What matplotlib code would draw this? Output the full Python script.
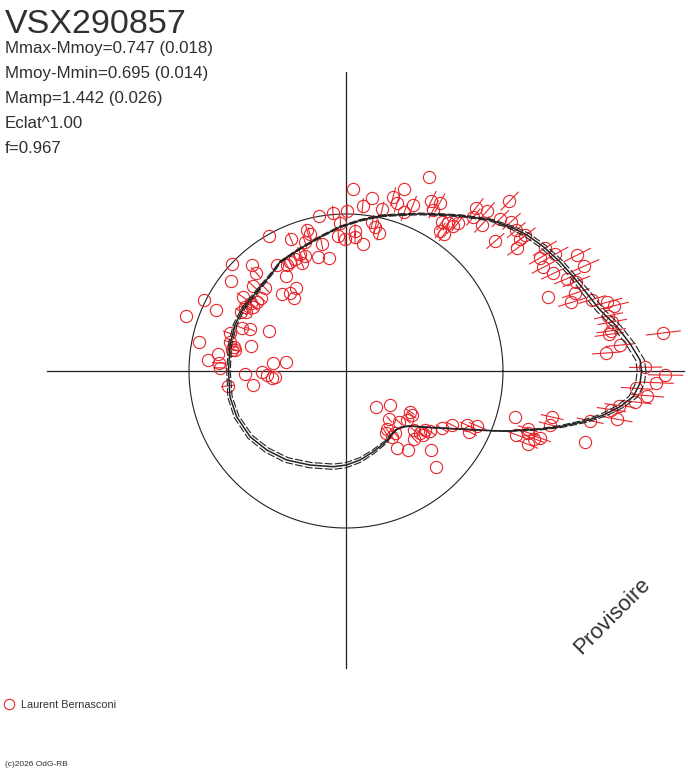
import numpy as np
import matplotlib
matplotlib.use("Agg")
import matplotlib.pyplot as plt
from matplotlib.collections import LineCollection

plt.rcParams['font.family'] = ['Liberation Sans', 'DejaVu Sans']

# star and fit results
star = "VSX290857"
stats = ["Mmax-Mmoy=0.747 (0.018)",
         "Mmoy-Mmin=0.695 (0.014)",
         "Mamp=1.442 (0.026)",
         "Eclat^1.00",
         "f=0.967"]
observer = "Laurent Bernasconi"

# observations: phase, magnitude relative to mean (mag), error (mag)
pt_phase = [0.186, 0.244, 0.201, 0.226, 0.208, 0.203, 0.234, 0.189, 0.194, 0.215,
            0.176, 0.169, 0.171, 0.277, 0.263, 0.249, 0.256, 0.222, 0.218, 0.213,
            0.240, 0.239, 0.251, 0.259, 0.229, 0.280, 0.293, 0.291, 0.313, 0.288,
            0.274, 0.159, 0.154, 0.151, 0.156, 0.149, 0.309, 0.318, 0.326, 0.331,
            0.128, 0.143, 0.135, 0.140, 0.147, 0.131, 0.124, 0.117, 0.110, 0.103,
            0.103, 0.114, 0.099, 0.088, 0.081, 0.084, 0.074, 0.066, 0.077, 0.070,
            0.063, 0.059, 0.052, 0.056, 0.047, 0.045, 0.041, 0.038, 0.033, 0.029,
            0.024, 0.022, 0.019, 0.015, 0.011, 0.002, 0.998, 0.994, 0.9905, 0.987,
            0.983, 0.980, 0.977, 0.972, 0.968, 0.965, 0.959, 0.954,
            0.861, 0.895, 0.910, 0.906, 0.866, 0.878, 0.892, 0.847, 0.841, 0.847,
            0.856, 0.886, 0.875, 0.898, 0.901, 0.889, 0.890, 0.843, 0.856, 0.881,
            0.870, 0.914, 0.925, 0.933, 0.937, 0.927, 0.958, 0.951, 0.948, 0.943,
            0.945, 0.939, 0.947,
            0.333, 0.299, 0.380, 0.365, 0.368, 0.342, 0.340, 0.312, 0.304, 0.394,
            0.382, 0.373, 0.336, 0.361, 0.349, 0.348, 0.387, 0.401, 0.426, 0.430,
            0.447, 0.402, 0.404, 0.410, 0.418, 0.415, 0.395, 0.4375, 0.4345, 0.424,
            0.450, 0.469, 0.461, 0.466, 0.470, 0.471, 0.459, 0.479, 0.487, 0.490,
            0.496, 0.482, 0.476, 0.505, 0.501, 0.508, 0.514, 0.513, 0.524, 0.520]
pt_dmag = [-0.32, -0.16, -0.21, -0.12, -0.15, -0.12, -0.06, -0.14, -0.08, -0.06,
           -0.21, -0.22, -0.17, 0.00, -0.01, -0.02, 0.06, 0.04, 0.07, 0.11,
           0.12, 0.17, 0.19, 0.16, 0.22, 0.21, 0.08, 0.11, 0.10, 0.32,
           0.34, -0.13, -0.15, -0.08, -0.08, -0.15, 0.24, 0.26, 0.27, 0.28,
           -0.44, -0.31, -0.33, -0.26, -0.18, -0.26, -0.35, -0.38, -0.37, -0.39,
           -0.36, -0.25, -0.32, -0.43, -0.46, -0.39, -0.54, -0.55, -0.38, -0.41,
           -0.46, -0.49, -0.47, -0.34, -0.44, -0.53, -0.59, -0.61, -0.58, -0.59,
           -0.58, -0.57, -0.77, -0.61, -0.55, -0.70, -0.77, -0.74, -0.67, -0.71,
           -0.67, -0.61, -0.58, -0.61, -0.50, -0.32, -0.32, -0.50,
           1.32, 1.13, 0.79, 0.74, 0.96, 0.83, 0.76, 0.86, 0.82, 0.73,
           0.74, 0.61, 0.54, 0.51, 0.45, 0.53, 0.49, 0.57, 0.49, 0.33,
           0.19, 0.37, 0.30, 0.18, 0.11, 0.15, -0.12, -0.21, -0.22, -0.16,
           -0.26, -0.24, -0.29,
           0.01, 0.16, 0.00, 0.11, 0.18, 0.23, 0.36, 0.32, 0.27, 0.08,
           0.24, 0.33, 0.52, 0.49, 0.54, 0.61, 0.37, 0.23, -0.01, 0.10,
           -0.08, 0.32, 0.36, 0.30, 0.29, 0.33, 0.36, 0.36, 0.44, 0.64,
           0.27, 0.05, 0.30, 0.34, 0.36, 0.33, 0.51, 0.21, 0.14, 0.23,
           0.24, 0.82, 1.03, 0.48, 0.68, 0.75, 0.81, 0.86, 0.56, 0.30]
pt_err = [0, 0, 0, 0, 0.06, 0.06, 0.05, 0.06, 0.06, 0.05,
          0.06, 0.06, 0.06, 0, 0.05, 0.05, 0.05, 0.05, 0.05, 0.06,
          0.05, 0.05, 0.05, 0.05, 0, 0.05, 0.05, 0.05, 0.05, 0,
          0, 0.06, 0.06, 0.06, 0.06, 0.06, 0.06, 0.06, 0.06, 0.06,
          0.06, 0.06, 0.06, 0.06, 0.06, 0.06, 0.06, 0.06, 0.06, 0.06,
          0.06, 0.065, 0.065, 0.065, 0.065, 0.065, 0.065, 0.065, 0.065, 0.065,
          0.065, 0.065, 0.065, 0, 0.065, 0.06, 0.06, 0.06, 0.06, 0.06,
          0.06, 0.06, 0.06, 0.06, 0.06, 0.06, 0.06, 0.06, 0.06, 0.06,
          0.06, 0.06, 0.06, 0.06, 0.06, 0.06, 0.06, 0,
          0, 0, 0.07, 0.07, 0.07, 0.07, 0.07, 0.07, 0.07, 0.07,
          0.07, 0.07, 0.07, 0.07, 0.07, 0.07, 0.07, 0, 0, 0,
          0, 0.07, 0.07, 0.07, 0.07, 0.07, 0, 0.06, 0.06, 0.06,
          0.06, 0.06, 0.06,
          0, 0.05, 0, 0, 0.06, 0, 0, 0.06, 0.06, 0,
          0.06, 0.06, 0, 0, 0, 0, 0.06, 0.06, 0, 0,
          0, 0.06, 0.06, 0.06, 0.06, 0.06, 0.06, 0.06, 0.06, 0,
          0.06, 0, 0.06, 0.06, 0.06, 0.06, 0, 0, 0, 0.06,
          0.06, 0, 0, 0, 0, 0, 0, 0, 0, 0.06]

# fitted light curve and its uncertainty
fit_phase = [0.0, 0.006, 0.0155, 0.026, 0.0375, 0.0497, 0.0625, 0.075, 0.0894, 0.1027,
             0.1125, 0.129, 0.149, 0.164, 0.180, 0.197, 0.2155, 0.235, 0.257, 0.2805,
             0.307, 0.3367, 0.3506, 0.3845, 0.413, 0.4375, 0.465, 0.5, 0.535, 0.563,
             0.5956, 0.625, 0.6565, 0.6917, 0.729, 0.751, 0.775, 0.802, 0.833, 0.848,
             0.862, 0.875, 0.887, 0.903, 0.925, 0.9375, 0.943, 0.9536, 0.9595, 0.9665,
             0.973, 0.9794, 0.9858, 0.9933]
fit_dmag = [-0.687, -0.682, -0.648, -0.606, -0.553, -0.518, -0.488, -0.462, -0.430, -0.397,
            -0.366, -0.309, -0.223, -0.163, -0.109, -0.057, -0.012, 0.040, 0.093, 0.152,
            0.199, 0.227, 0.264, 0.297, 0.289, 0.290, 0.302, 0.315, 0.302, 0.305,
            0.326, 0.368, 0.417, 0.482, 0.528, 0.557, 0.603, 0.664, 0.715, 0.755,
            0.770, 0.745, 0.674, 0.507, 0.223, 0.008, -0.096, -0.277, -0.372, -0.473,
            -0.552, -0.614, -0.660, -0.682]
fit_err = [0.016, 0.016, 0.016, 0.016, 0.016, 0.016, 0.012, 0.012, 0.012, 0.012,
           0.010, 0.006, 0.006, 0.006, 0.006, 0.006, 0.006, 0.006, 0.006, 0.006,
           0.006, 0.006, 0.008, 0.012, 0.014, 0.015, 0.015, 0.016, 0.020, 0.022,
           0.024, 0.026, 0.028, 0.030, 0.030, 0.030, 0.028, 0.025, 0.018, 0.008,
           0.004, 0.004, 0.004, 0.004, 0.004, 0.004, 0.006, 0.010, 0.012, 0.014,
           0.014, 0.015, 0.016, 0.016]

R0 = 157.0  # pixels of the mean-brightness circle


def polar(phase, dmag):
    r = 10 ** (-0.4 * np.asarray(dmag))
    a = 2 * np.pi * np.asarray(phase)
    return r * np.cos(a), r * np.sin(a)


fig = plt.figure(figsize=(6.88, 7.68), dpi=100)
ax = fig.add_axes([0, 0, 1, 1])
ax.set_xlim(-346 / R0, 342 / R0)
ax.set_ylim(-397 / R0, 371 / R0)
ax.axis('off')

ink = '#222222'
red = '#e8262c'

# axes cross and mean circle
ax.plot([-1.905, 2.153], [0, 0], color=ink, lw=0.9)
ax.plot([0, 0], [-1.89, 1.905], color=ink, lw=0.9)
t = np.linspace(0, 2 * np.pi, 400)
ax.plot(np.cos(t), np.sin(t), color=ink, lw=0.8)

# observations with radial error bars
ph = np.array(pt_phase)
dm = np.array(pt_dmag)
er = np.array(pt_err)
segs = []
for p, m, e in zip(ph, dm, er):
    if e > 0:
        x0, y0 = polar(p, m - e)
        x1, y1 = polar(p, m + e)
        segs.append([(x0, y0), (x1, y1)])
ax.add_collection(LineCollection(segs, colors=red, linewidths=0.8, zorder=2))
px, py = polar(ph, dm)
ax.plot(px, py, 'o', ms=8.8, mfc='none', mec=red, mew=0.8, zorder=3)

# fitted curve and envelope
fp = np.append(fit_phase, fit_phase[0] + 1)
fm = np.append(fit_dmag, fit_dmag[0])
fe = np.append(fit_err, fit_err[0])
cx, cy = polar(fp, fm)
ax.plot(cx, cy, color=ink, lw=1.1, zorder=4)
for s in (-1, 1):
    ex, ey = polar(fp, fm + s * fe)
    ax.plot(ex, ey, color=ink, lw=0.8, ls=(0, (7, 2)), zorder=4)

# texts
W, H = 688.0, 768.0
fig.text(5 / W, 1 - 33 / H, star, fontsize=24.5, color='#303030', va='baseline')
for i, s in enumerate(stats):
    fig.text(5 / W, 1 - (53 + 25 * i) / H, s, fontsize=12.2, color='#303030', va='baseline')

fig.text(616 / W, 1 - 620 / H, "Provisoire", fontsize=16, color='#303030',
         rotation=45, rotation_mode='anchor', ha='center', va='baseline')

fig.lines.append(plt.Line2D([9 / W], [1 - 704 / H], marker='o', ms=7.5, mfc='none',
                            mec=red, mew=0.8, transform=fig.transFigure))
fig.text(21 / W, 1 - 708 / H, observer, fontsize=7.8, color='#303030', va='baseline')
fig.text(5 / W, 1 - 766 / H, "(c)2026 OdG-RB", fontsize=6, color='#303030', va='baseline')

fig.savefig("out.png", dpi=100)
